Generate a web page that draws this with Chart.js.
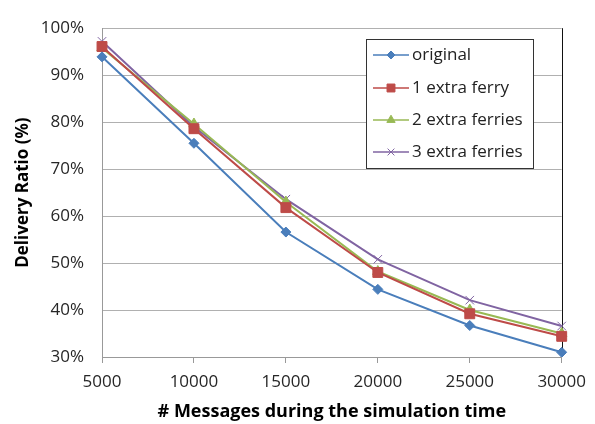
<!DOCTYPE html>
<html>
<head>
<meta charset="utf-8">
<script src="https://cdn.jsdelivr.net/npm/chart.js@4"></script>
<style>
  html, body { margin: 0; padding: 0; background: #fff; }
  #wrap { width: 595px; height: 424px; }
</style>
</head>
<body>
<div id="wrap"><canvas id="deliveryChart" width="595" height="424"></canvas></div>
<script>
const messages = ["5000", "10000", "15000", "20000", "25000", "30000"];
const original = [93.9, 75.5, 56.6, 44.4, 36.7, 31.0];
const extraFerry1 = [96.1, 78.6, 61.8, 48.0, 39.2, 34.4];
const extraFerry2 = [95.8, 79.6, 63.0, 48.2, 40.0, 35.0];
const extraFerry3 = [97.2, 79.0, 63.6, 50.8, 42.1, 36.6];

const FONT = "'Open Sans', sans-serif";

function series(label, data, color, style, radius) {
    return {
        label: label,
        data: data,
        borderColor: color,
        backgroundColor: color,
        borderWidth: 2,
        pointStyle: style,
        pointRadius: radius,
        pointHoverRadius: radius,
        pointBorderWidth: 1,
        tension: 0
    };
}

// legend box drawn inside the plot area, Excel style
const insideLegend = {
    id: "insideLegend",
    afterDraw(chart) {
        const ctx = chart.ctx;
        const x = 366, y = 39, w = 167, h = 129;
        ctx.save();
        ctx.fillStyle = "#fff";
        ctx.fillRect(x, y, w, h);
        ctx.strokeStyle = "#333";
        ctx.lineWidth = 1;
        ctx.strokeRect(x + 0.5, y + 0.5, w, h);
        const rows = [55, 88, 120, 152];
        chart.data.datasets.forEach((ds, i) => {
            const cy = rows[i];
            ctx.strokeStyle = ds.borderColor;
            ctx.lineWidth = 1.5;
            ctx.beginPath();
            ctx.moveTo(373, cy);
            ctx.lineTo(409, cy);
            ctx.stroke();
            ctx.fillStyle = ds.backgroundColor;
            ctx.lineWidth = 1;
            Chart.helpers.drawPoint(ctx, {
                pointStyle: ds.pointStyle,
                radius: ds.pointRadius * 0.8,
                borderWidth: 1
            }, 391, cy);
            ctx.fillStyle = "#222";
            ctx.font = "17px " + FONT;
            ctx.textBaseline = "middle";
            ctx.textAlign = "left";
            ctx.fillText(ds.label, 412, cy);
        });
        ctx.restore();
    }
};

// dark right edge of the plot area
const rightEdge = {
    id: "rightEdge",
    beforeDatasetsDraw(chart) {
        const a = chart.chartArea;
        const ctx = chart.ctx;
        ctx.save();
        ctx.strokeStyle = "#111";
        ctx.lineWidth = 1;
        ctx.beginPath();
        ctx.moveTo(Math.round(a.right) + 0.5, a.top);
        ctx.lineTo(Math.round(a.right) + 0.5, a.bottom);
        ctx.stroke();
        ctx.restore();
    }
};

new Chart(document.getElementById("deliveryChart"), {
    type: "line",
    data: {
        labels: messages,
        datasets: [
            series("original", original, "#4a7ebb", "rectRot", 5),
            series("1 extra ferry", extraFerry1, "#be4b48", "rect", 7),
            series("2 extra ferries", extraFerry2, "#98b954", "triangle", 6),
            series("3 extra ferries", extraFerry3, "#8064a2", "crossRot", 6)
        ]
    },
    options: {
        responsive: false,
        animation: false,
        layout: { padding: { top: 17, right: 27, left: 0, bottom: 0 } },
        plugins: {
            legend: { display: false },
            tooltip: { enabled: false }
        },
        scales: {
            x: {
                type: "category",
                offset: false,
                afterFit(scale) { scale.height = 67; },
                grid: {
                    drawOnChartArea: false,
                    drawTicks: true,
                    tickLength: 6,
                    color: "#999"
                },
                border: { color: "#999" },
                ticks: {
                    padding: 9,
                    maxRotation: 0,
                    font: { family: FONT, size: 17 },
                    color: "#262626"
                },
                title: {
                    display: true,
                    text: "# Messages during the simulation time",
                    font: { family: FONT, size: 18, weight: "bold" },
                    color: "#000",
                    padding: { top: 2, bottom: 1 }
                }
            },
            y: {
                min: 30,
                max: 100,
                afterFit(scale) { scale.width = 102; },
                grid: {
                    drawTicks: false,
                    color: "#b0b0b0"
                },
                border: { color: "#999" },
                ticks: {
                    stepSize: 10,
                    padding: 18,
                    font: { family: FONT, size: 17 },
                    color: "#262626",
                    callback: v => v + "%"
                },
                title: {
                    display: true,
                    text: "Delivery Ratio (%)",
                    font: { family: FONT, size: 17, weight: "bold" },
                    color: "#000",
                    padding: { top: 13, bottom: 0 }
                }
            }
        }
    },
    plugins: [rightEdge, insideLegend]
});
</script>
</body>
</html>
